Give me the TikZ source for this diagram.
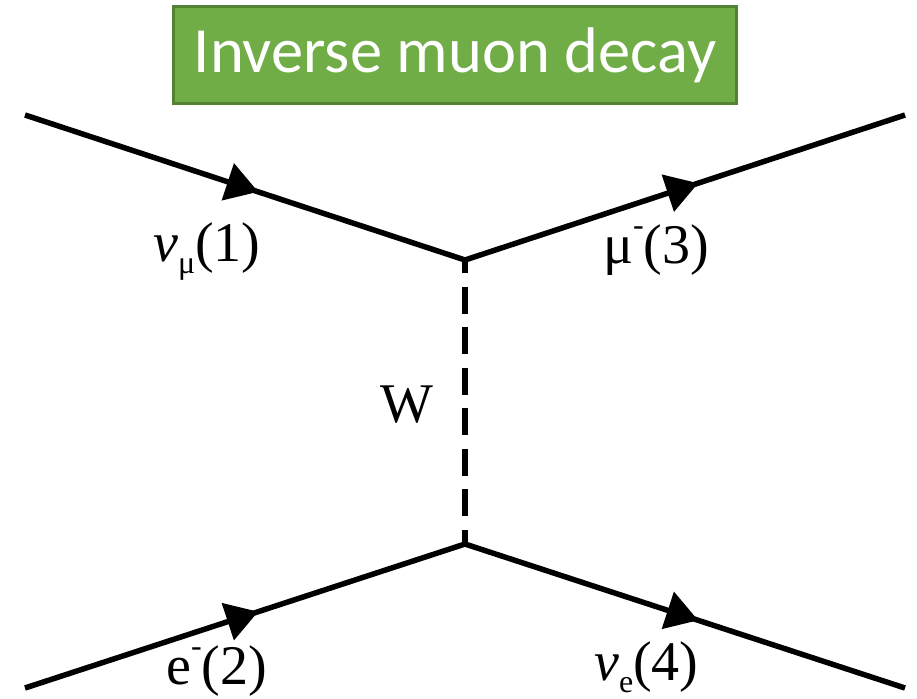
\documentclass[tikz,border=0pt]{standalone}
\usepackage{fontspec}
\setmainfont{Liberation Serif}
\newfontfamily\titlefont{Carlito}
\usetikzlibrary{arrows.meta,decorations.markings}
\definecolor{boxgreen}{RGB}{112,173,71}
\definecolor{boxedge}{RGB}{84,130,53}
\tikzset{
  fermion/.style={line width=5.5pt,
    postaction={decorate},
    decoration={markings,mark=at position 0.53 with {\arrow{Triangle[length=32pt,width=38pt]}}}},
  boson/.style={line width=6pt,dash pattern=on 27pt off 13.5pt,dash phase=14pt},
  lab/.style={font=\fontsize{56}{60}\selectfont,inner sep=0pt,anchor=base west}
}
\newcommand{\minus}{\raisebox{0.5em}{\fontsize{32}{34}\selectfont -}}
\newcommand{\subsc}[1]{\raisebox{-0.22em}{\fontsize{32}{34}\selectfont #1}}
\begin{document}
\begin{tikzpicture}[x=1pt,y=-1pt]
\useasboundingbox (0,0) rectangle (917,698);
\node[draw=boxedge,line width=2.5pt,fill=boxgreen,minimum width=563pt,minimum height=97pt,inner sep=0pt,
  text=white,font=\titlefont\fontsize{64.5}{70}\selectfont] (title) at (455,55) {Inverse muon decay};
\coordinate (a) at (25,115);
\coordinate (b) at (905,115);
\coordinate (c) at (25,688);
\coordinate (d) at (905,688);
\coordinate (v1) at (465,260);
\coordinate (v2) at (465,544);
\draw[fermion] (a) -- (v1);
\draw[fermion] (v1) -- (b);
\draw[fermion] (c) -- (v2);
\draw[fermion] (v2) -- (d);
\draw[boson] (v1) -- (v2);
\node[lab] (l1) at (153,261) {\textit{ν}\subsc{μ}(1)};
\node[lab] (l3) at (603,263) {μ\minus(3)};
\node[lab] (lw) at (380,422) {W};
\node[lab] (l2) at (166,684) {e\minus(2)};
\node[lab] (l4) at (594,680) {\textit{ν}\subsc{e}(4)};
\end{tikzpicture}
\end{document}
